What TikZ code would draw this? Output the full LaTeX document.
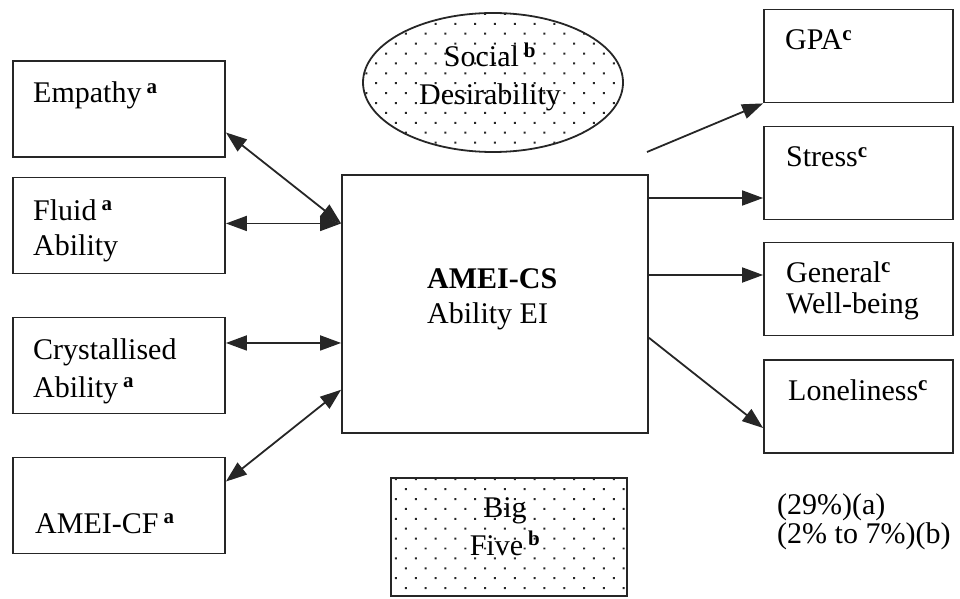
\documentclass[tikz,border=0pt]{standalone}
\usepackage{fontspec}
\setmainfont{Liberation Serif}
\usetikzlibrary{arrows.meta,patterns.meta,shapes.geometric,calc}
\newcommand\expo[1]{\textsuperscript{\textbf{#1}}}

\begin{document}
\begin{tikzpicture}[x=1pt,y=1pt]
% Styles
\tikzstyle{fleche}=[-{Triangle[length=21pt,width=15pt]},line width=1.8pt,draw=black!85]
\tikzstyle{flechedouble}=[{Triangle[length=21pt,width=15pt]}-{Triangle[length=21pt,width=15pt]},line width=1.8pt,draw=black!85]
\tikzstyle{boite}=[draw=black!85,line width=1.8pt,rectangle,minimum width=212pt,minimum height=96pt,inner sep=0pt]
\tikzstyle{boitedroite}=[boite,minimum width=189pt,minimum height=93pt]
\tikzstyle{pointille}=[pattern={Dots[radius=1.4pt,distance=14pt,angle=45]},pattern color=black!85]
\tikzstyle{texte}=[inner sep=0pt,anchor=base west,align=left,font=\fontsize{30}{35}\selectfont]
% Cadre
\useasboundingbox (0,0) rectangle (960,598);
% Noeuds
\node[boite] (Emp) at (119,489) {};
\node[boite] (Flu) at (119,372.5) {};
\node[boite] (Cry) at (119,232.5) {};
\node[boite] (Acf) at (119,92.5) {};
\node[boite,minimum width=306pt,minimum height=258pt] (Acs) at (495,294) {};
\node[boite,ellipse,pointille,minimum width=260pt,minimum height=139pt] (Soc) at (493,515.5) {};
\node[boite,pointille,minimum width=236pt,minimum height=118pt] (Big) at (509,61) {};
\node[boitedroite] (Gpa) at (858.5,542) {};
\node[boitedroite] (Str) at (858.5,425) {};
\node[boitedroite] (Gen) at (858.5,309) {};
\node[boitedroite] (Lon) at (858.5,191.5) {};
% Textes (base = derniere ligne)
\node[texte] (tEmp) at (33,495) {Empathy\,\expo{a}};
\node[texte] (tFlu) at (33,343) {Fluid\,\expo{a}\\Ability};
\node[texte] (tCry) at (33,201) {Crystallised\\[3pt]Ability\,\expo{a}};
\node[texte] (tAcf) at (35,65) {AMEI-CF\,\expo{a}};
\node[texte] (tAcs) at (427,275) {\textbf{AMEI-CS}\\Ability EI};
\node[texte,align=center,anchor=base] (tSoc) at (490,493) {Social\,\expo{b}\\[3pt]Desirability};
\node[texte,align=center,anchor=base] (tBig) at (505,43) {Big\\[3pt]Five\,\expo{b}};
\node[texte] (tGpa) at (785,548) {GPA\expo{c}};
\node[texte] (tStr) at (786,431) {Stress\expo{c}};
\node[texte,font=\fontsize{30}{31}\selectfont] (tGen) at (786,285) {General\expo{c}\\Well-being};
\node[texte] (tLon) at (788,198) {Loneliness\expo{c}};
\node[texte,font=\fontsize{30}{26}\selectfont] (tNote) at (777,55) {(29\%)(a)\\(2\% to 7\%)(b)};
% Arcs
\coordinate (gEmp) at ($(Emp.south east)!0.26!(Emp.north east)$);
\coordinate (hAcs) at ($(Acs.south west)!0.81!(Acs.north west)$);
\coordinate (mAcs) at ($(Acs.south west)!0.35!(Acs.north west)$);
\coordinate (bAcs) at ($(Acs.south west)!0.17!(Acs.north west)$);
\coordinate (gAcf) at ($(Acf.south east)!0.745!(Acf.north east)$);
\draw[flechedouble] (gEmp) -- (hAcs);
\draw[flechedouble] (Flu.east |- hAcs) -- (hAcs);
\draw[flechedouble] (Cry.east |- mAcs) -- (mAcs);
\draw[flechedouble] (gAcf) -- (bAcs);
\coordinate (dGpa) at (647,446);
\coordinate (aStr) at ($(Str.west)+(0,-25)$);
\coordinate (aGen) at ($(Gen.west)+(0,14)$);
\coordinate (dLon) at ($(Acs.south east)!0.37!(Acs.north east)$);
\coordinate (aLon) at ($(Lon.west)+(0,-21.5)$);
\draw[fleche] (dGpa) -- (Gpa.south west);
\draw[fleche] (Acs.east |- aStr) -- (aStr);
\draw[fleche] (Acs.east |- aGen) -- (aGen);
\draw[fleche] (dLon) -- (aLon);
\end{tikzpicture}
\end{document}
